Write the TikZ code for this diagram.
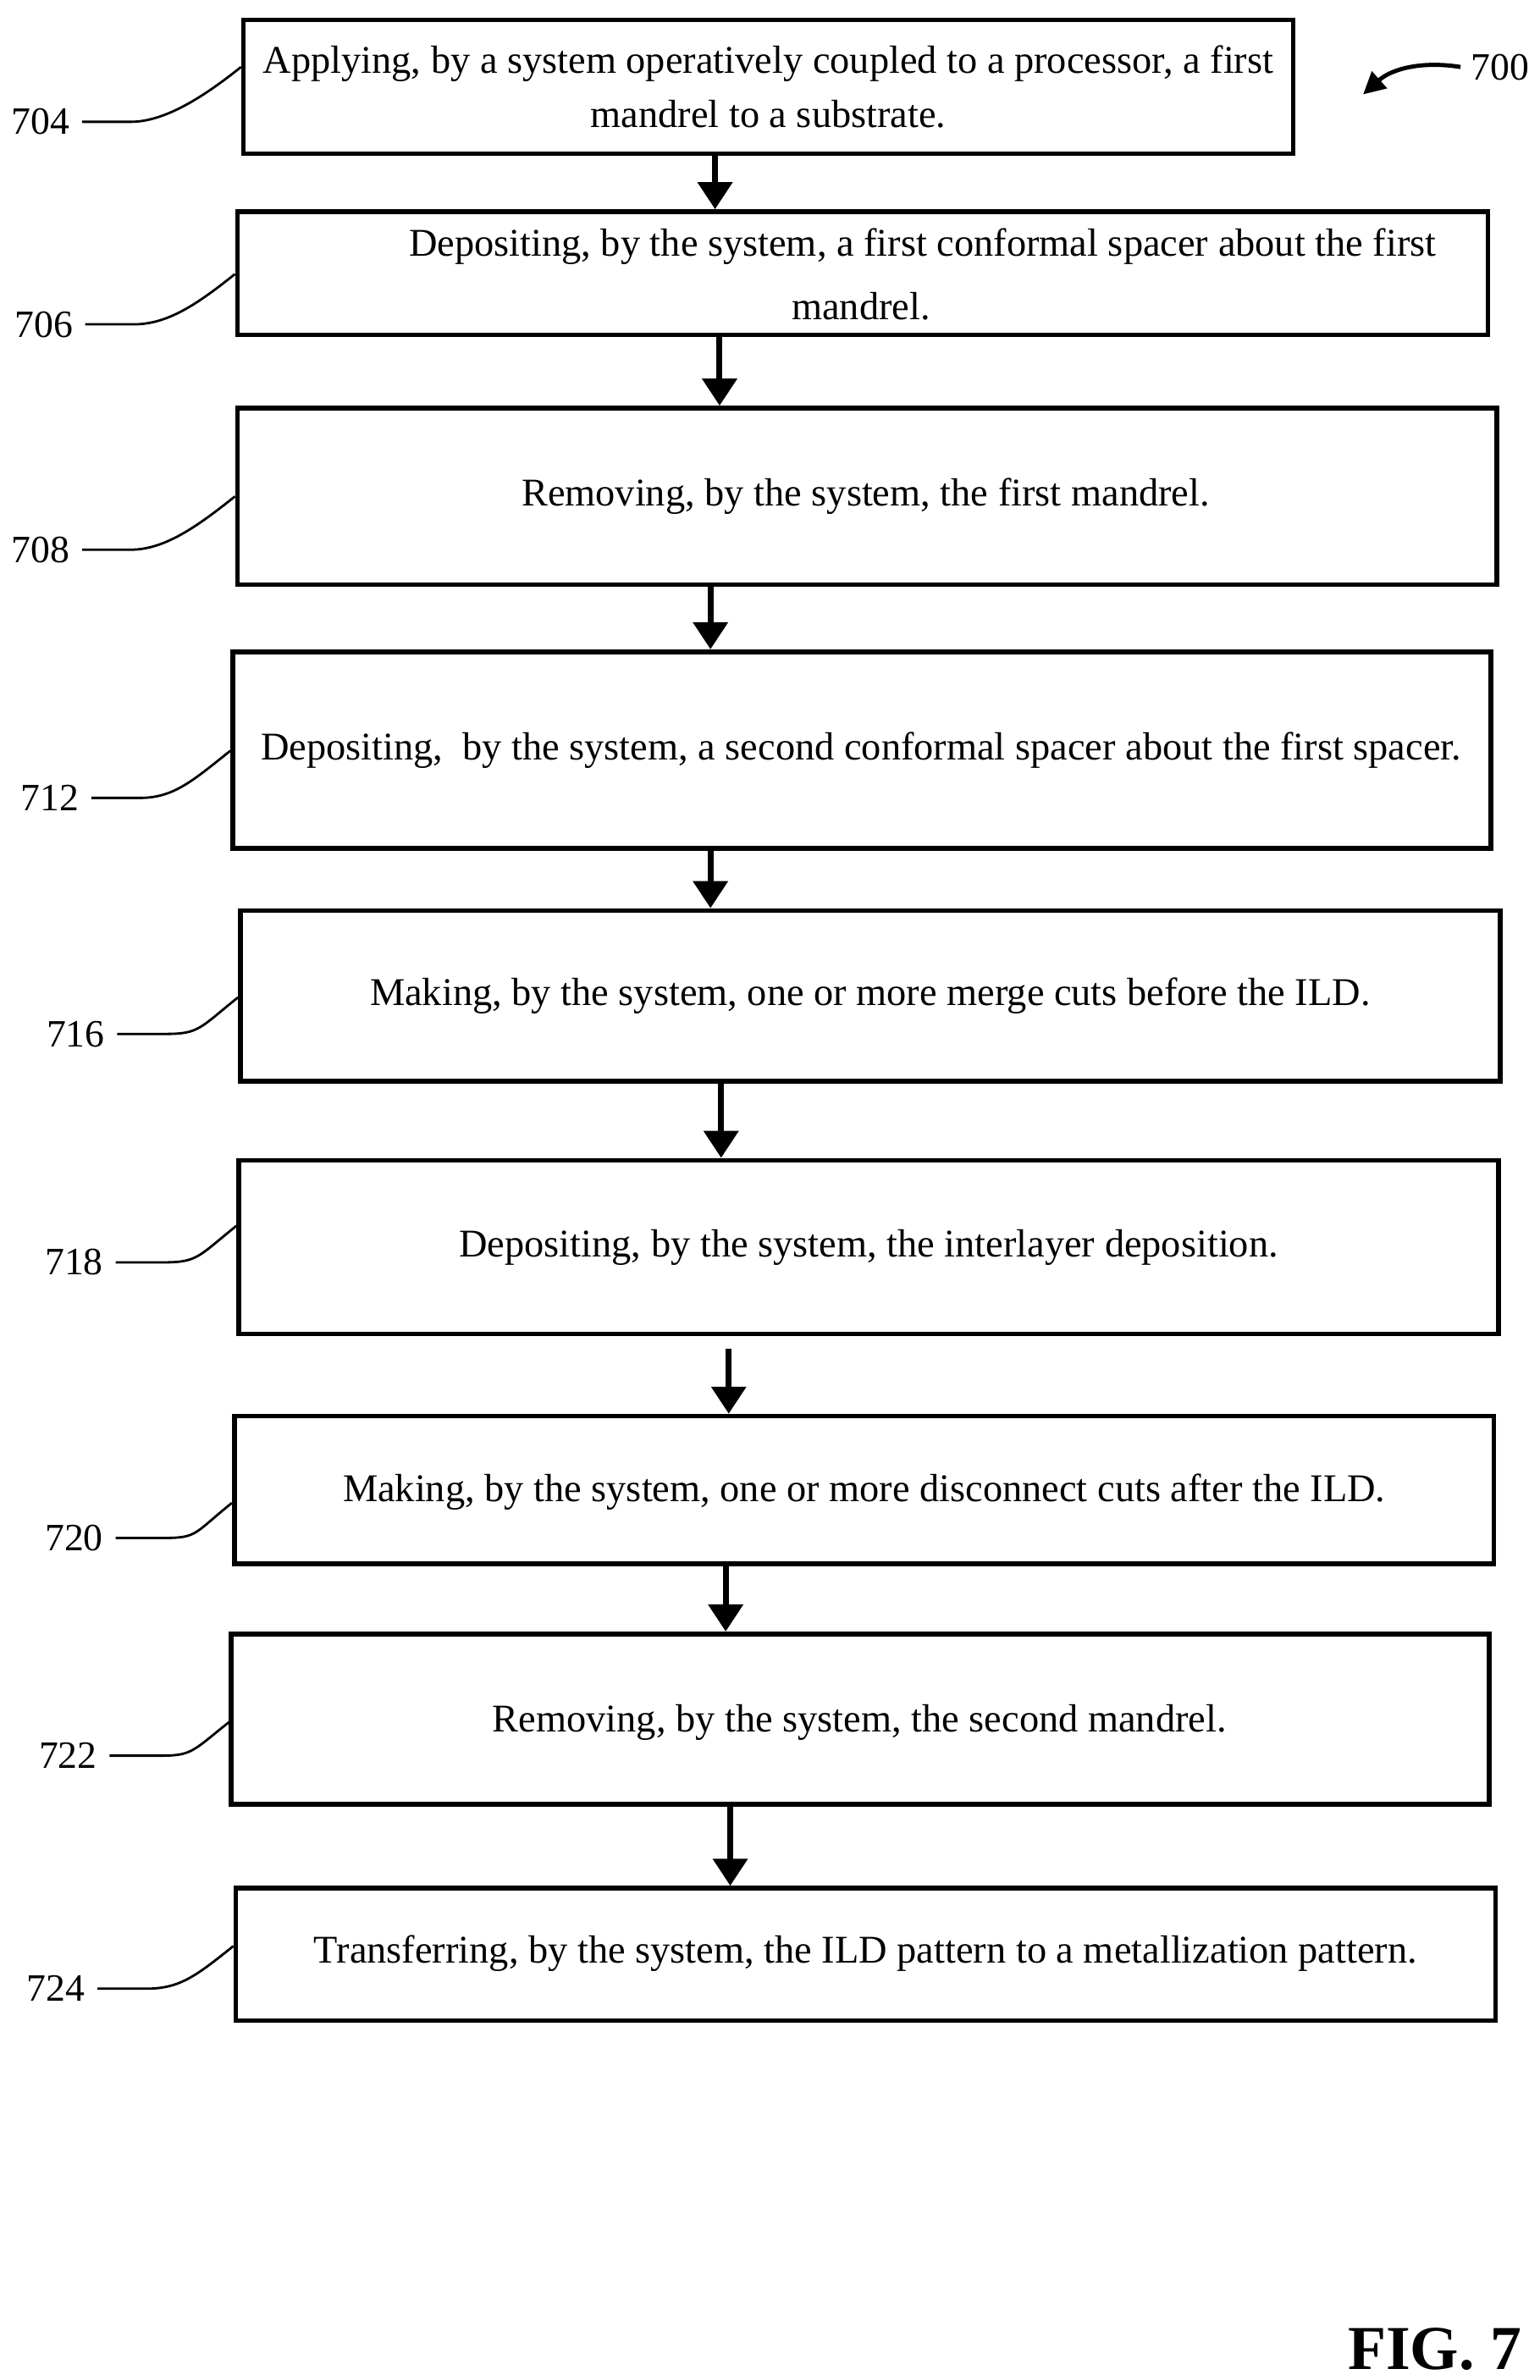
\documentclass[tikz,border=0pt]{standalone}
\usepackage{fontspec}
\setmainfont{Liberation Serif}
\usetikzlibrary{arrows.meta,fit}
\begin{document}
\begin{tikzpicture}[x=0.017975cm,y=-0.017985cm,
 box/.style={draw,line width=1.6pt,inner sep=0pt},
 txt/.style={font=\fontsize{13.2}{18}\selectfont,align=center},
 lab/.style={font=\fontsize{13}{15}\selectfont,anchor=east,inner sep=4pt},
 arr/.style={line width=2pt,-{Triangle[length=3.2mm,width=4mm]}},
 lead/.style={line width=0.8pt}]
\useasboundingbox (0,0) rectangle (1012,1563);
% boxes
\node[box,fit={(160,13)(850,101)}] (b704) {};
\node[box,fit={(156,139)(978,220)}] (b706) {};
\node[box,fit={(156,268)(984,384)}] (b708) {};
\node[box,fit={(153,428)(980,557)}] (b712) {};
\node[box,fit={(158,598)(986,710)}] (b716) {};
\node[box,fit={(157,762)(985,876)}] (b718) {};
\node[box,fit={(154,930)(982,1027)}] (b720) {};
\node[box,fit={(152,1073)(979,1185)}] (b722) {};
\node[box,fit={(155,1240)(983,1327)}] (b724) {};
% texts
\node[txt] (t704) at (505,57) {Applying, by a system operatively coupled to a processor, a first\\mandrel to a substrate.};
\node[txt,anchor=west] (t706a) at (262,162) {Depositing, by the system, a first conformal spacer about the first};
\node[txt] (t706b) at (566,201) {mandrel.};
\node[txt] (t708) at (569,326) {Removing, by the system, the first mandrel.};
\node[txt] (t712) at (566,493) {Depositing,\ \ by the system, a second conformal spacer about the first spacer.};
\node[txt] (t716) at (572,654) {Making, by the system, one or more merge cuts before the ILD.};
\node[txt] (t718) at (571,819) {Depositing, by the system, the interlayer deposition.};
\node[txt] (t720) at (568,980) {Making, by the system, one or more disconnect cuts after the ILD.};
\node[txt] (t722) at (565,1131) {Removing, by the system, the second mandrel.};
\node[txt] (t724) at (569,1283) {Transferring, by the system, the ILD pattern to a metallization pattern.};
% arrows
\coordinate (a1) at (470,0); \coordinate (a2) at (473,0); \coordinate (a3) at (467,0);
\coordinate (a4) at (467,0); \coordinate (a5) at (474,0); \coordinate (a6) at (479,0);
\coordinate (a7) at (477,0); \coordinate (a8) at (480,0); \coordinate (s6) at (0,886);
\draw[arr] (b704.south -| a1) -- (b706.north -| a1);
\draw[arr] (b706.south -| a2) -- (b708.north -| a2);
\draw[arr] (b708.south -| a3) -- (b712.north -| a3);
\draw[arr] (b712.south -| a4) -- (b716.north -| a4);
\draw[arr] (b716.south -| a5) -- (b718.north -| a5);
\draw[arr] (s6 -| a6) -- (b720.north -| a6);
\draw[arr] (b720.south -| a7) -- (b722.north -| a7);
\draw[arr] (b722.south -| a8) -- (b724.north -| a8);
% labels + leaders
\foreach \n/\lx/\ly/\ey in {704/54/80/44, 706/56/213/180, 708/54/361/326, 712/60/524/493, 716/77/679/655, 718/76/829/805, 720/76/1010/987, 722/72/1153/1131, 724/64/1306/1278}{
  \node[lab] (l\n) at (\lx,\ly) {\n};
  \coordinate (e\n) at (0,\ey);
  \draw[lead] (l\n.east) -- ++(32,0) .. controls +(22,0) and +(-25,20) .. (b\n.west |- e\n);
}
\node[font=\fontsize{13}{15}\selectfont,anchor=west] (l700) at (960,44) {700};
\coordinate (p700) at (896,62);
\draw[line width=1.4pt,-{Triangle[length=2.6mm,width=2.6mm]}] (l700.west) .. controls (935,40) and (915,45) .. (p700);
\node[font=\fontsize{21}{23}\selectfont\bfseries] (fig) at (943,1543) {FIG. 7};
\end{tikzpicture}
\end{document}
